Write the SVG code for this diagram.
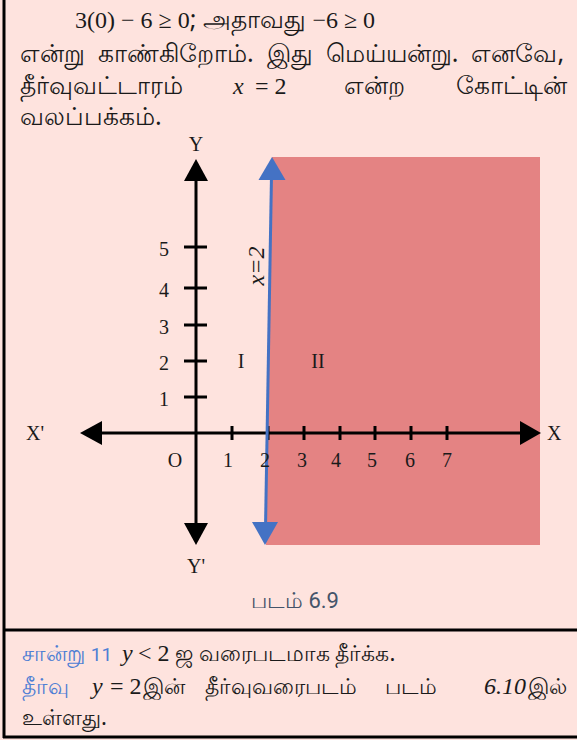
<svg xmlns="http://www.w3.org/2000/svg" width="577" height="740" viewBox="0 0 577 740">
<defs>
<style>
.ta{font-family:"Noto Sans",sans-serif;font-size:25px;fill:#1a1a1a}
.tb{font-family:"Noto Sans",sans-serif;font-size:22px;fill:#1a1a1a}
.m{font-family:"Liberation Serif",serif;font-size:24px;fill:#1a1a1a}
.mi{font-family:"Liberation Serif",serif;font-size:24px;font-style:italic;fill:#1a1a1a}
.g{font-family:"Liberation Serif",serif;font-size:20px;fill:#1a1a1a}
.blue{fill:#4f7fd4}
.ax{stroke:#000;stroke-width:3;fill:none}
.tk{stroke:#000;stroke-width:3}
</style>
</defs>
<rect x="0" y="0" width="577" height="740" fill="#fee3de"/>
<g id="frame">
<line x1="4" y1="0" x2="4" y2="738" stroke="#000" stroke-width="3"/>
<line x1="3" y1="630" x2="577" y2="630" stroke="#000" stroke-width="3"/>
<line x1="3" y1="737" x2="577" y2="737" stroke="#000" stroke-width="3"/>
</g>
<g id="top-text">
<text class="m" x="75" y="28" xml:space="preserve">3(0) − 6 ≥ 0<tspan class="ta" font-size="22">; அதாவது </tspan>−6 ≥ 0</text>
<text class="ta" x="20" y="62" word-spacing="6.5">என்று காண்கிறோம். இது மெய்யன்று. எனவே,</text>
<text class="ta" x="20" y="94">தீர்வுவட்டாரம்</text>
<text class="mi" x="233" y="94">x</text><text class="m" x="255" y="94">= 2</text>
<text class="ta" x="344" y="94">என்ற</text>
<text class="ta" x="567" y="94" text-anchor="end">கோட்டின்</text>
<text class="ta" x="20" y="125">வலப்பக்கம்.</text>
</g>
<g id="region-II">
<polygon points="272,157 540,157 540,545 266,545" fill="#e48383"/>
</g>
<g id="axes">
<line class="ax" x1="196" y1="175" x2="196" y2="528"/>
<polygon points="196,159 184,181 208,181" fill="#000"/>
<polygon points="196,545 184,523 208,523" fill="#000"/>
<line class="ax" x1="95" y1="433" x2="525" y2="433"/>
<polygon points="80,433 102,421 102,445" fill="#000"/>
<polygon points="541,433 520,421 520,445" fill="#000"/>
<line class="tk" x1="184" y1="247" x2="207" y2="247"/>
<line class="tk" x1="184" y1="288" x2="207" y2="288"/>
<line class="tk" x1="184" y1="325" x2="207" y2="325"/>
<line class="tk" x1="184" y1="361" x2="207" y2="361"/>
<line class="tk" x1="184" y1="397" x2="207" y2="397"/>
<line class="tk" x1="232" y1="426" x2="232" y2="440"/>
<line class="tk" x1="268" y1="426" x2="268" y2="440"/>
<line class="tk" x1="304" y1="426" x2="304" y2="440"/>
<line class="tk" x1="340" y1="426" x2="340" y2="440"/>
<line class="tk" x1="375" y1="426" x2="375" y2="440"/>
<line class="tk" x1="411" y1="426" x2="411" y2="440"/>
<line class="tk" x1="447" y1="426" x2="447" y2="440"/>
</g>
<g id="line-x2">
<line x1="271.5" y1="175" x2="265.5" y2="528" stroke="#4472c4" stroke-width="3"/>
<polygon points="272,157 258.5,180 285.5,180" fill="#4472c4"/>
<polygon points="265,545 252,522 278,522" fill="#4472c4"/>
<text class="mi" font-size="19" transform="translate(264,266) rotate(-90)" text-anchor="middle">x=2</text>
</g>
<g id="labels">
<text class="g" x="196" y="151" text-anchor="middle">Y</text>
<text class="g" x="196" y="573" text-anchor="middle">Y'</text>
<text class="g" x="26" y="440">X'</text>
<text class="g" x="547" y="440">X</text>
<text class="g" x="164" y="256" text-anchor="middle">5</text>
<text class="g" x="164" y="297" text-anchor="middle">4</text>
<text class="g" x="164" y="334" text-anchor="middle">3</text>
<text class="g" x="164" y="370" text-anchor="middle">2</text>
<text class="g" x="164" y="406" text-anchor="middle">1</text>
<text class="g" x="175" y="467" text-anchor="middle">O</text>
<text class="g" x="228" y="467" text-anchor="middle">1</text>
<text class="g" x="265" y="467" text-anchor="middle">2</text>
<text class="g" x="302" y="467" text-anchor="middle">3</text>
<text class="g" x="336" y="467" text-anchor="middle">4</text>
<text class="g" x="372" y="467" text-anchor="middle">5</text>
<text class="g" x="410" y="467" text-anchor="middle">6</text>
<text class="g" x="447" y="467" text-anchor="middle">7</text>
<text class="g" x="241" y="368" text-anchor="middle">I</text>
<text class="g" x="318" y="368" text-anchor="middle">II</text>
<text x="295" y="608" text-anchor="middle" font-family="Roboto,sans-serif" font-size="22" fill="#44546a">படம் 6.9</text>
</g>
<g id="bottom-text">
<text class="tb blue" x="22" y="661">சான்று <tspan font-family="Roboto,sans-serif" font-size="19">11</tspan></text>
<text class="mi" x="122" y="661">y</text><text class="m" x="138" y="661">&lt; 2</text>
<text class="tb" x="175" y="661">ஜ வரைபடமாக தீர்க்க.</text>
<text class="tb blue" x="22" y="694">தீர்வு</text>
<text class="mi" x="92" y="694">y</text><text class="m" x="110" y="694">= 2</text>
<text class="tb" x="143" y="694">இன்</text>
<text class="tb" x="205" y="694">தீர்வுவரைபடம்</text>
<text class="tb" x="385" y="694">படம்</text>
<text class="mi" x="526" y="694" text-anchor="end">6.10</text>
<text class="tb" x="567" y="694" text-anchor="end">இல்</text>
<text class="tb" x="22" y="725">உள்ளது.</text>
</g>
</svg>
